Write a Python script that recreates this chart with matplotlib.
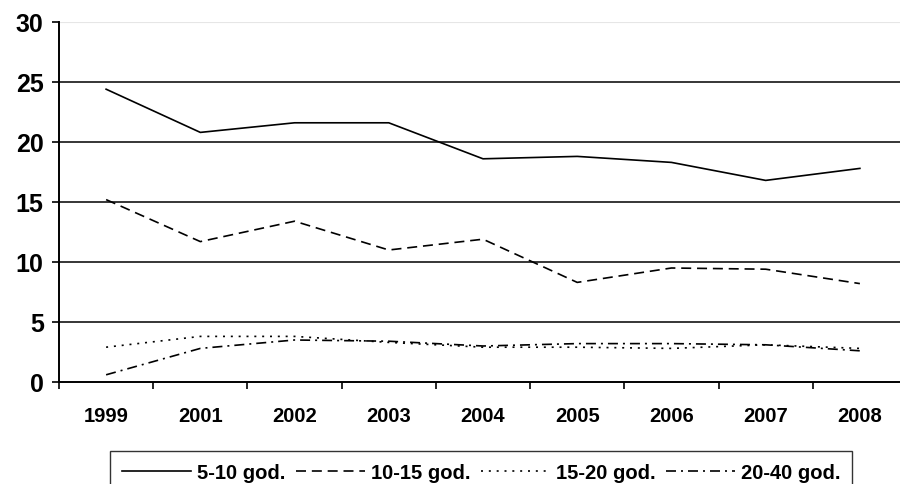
import matplotlib
matplotlib.use("Agg")
import matplotlib.pyplot as plt
from matplotlib.lines import Line2D
from numpy import arange

# chart data
years = ["1999", "2001", "2002", "2003", "2004", "2005", "2006", "2007", "2008"]
g_5_10 = [24.4, 20.8, 21.6, 21.6, 18.6, 18.8, 18.3, 16.8, 17.8]
g_10_15 = [15.2, 11.7, 13.4, 11.0, 11.9, 8.3, 9.5, 9.4, 8.2]
g_15_20 = [2.9, 3.8, 3.8, 3.3, 2.9, 2.9, 2.8, 3.1, 2.8]
g_20_40 = [0.6, 2.8, 3.5, 3.4, 3.0, 3.2, 3.2, 3.1, 2.6]

legend_names = ["5-10 god.", "10-15 god.", "15-20 god.", "20-40 god."]
line_styles = ["-", (0, (6, 3.5)), (0, (1.2, 3.5)), (0, (6, 3, 1.2, 3))]


def main() -> None:
    plt.rcParams['font.family'] = 'Liberation Sans'
    plt.rcParams['font.weight'] = 'bold'

    fig = plt.figure(figsize=(9, 4.85), dpi=100)
    # axes runs slightly past the right edge, as in the original
    ax = fig.add_axes([59 / 900, 1 - 383 / 485, 848 / 900, 360 / 485])

    x = arange(len(years))
    series = [g_5_10, g_10_15, g_15_20, g_20_40]
    for data, ls in zip(series, line_styles):
        ax.plot(x, data, color="black", linewidth=1.2, linestyle=ls)

    ax.set_ylim(0, 30)
    ax.set_xlim(-0.5, len(years) - 0.5)
    ax.set_yticks(arange(0, 31, 5))
    ax.set_yticklabels([str(v) for v in range(0, 31, 5)], fontsize=18, fontweight='bold')

    # horizontal gridlines
    for v in range(5, 30, 5):
        ax.axhline(v, color="black", linewidth=1.1, zorder=0)
    ax.axhline(30, color="#e6e6e6", linewidth=1.5, zorder=0)

    # category boundary ticks, labels in the middle
    ax.set_xticks(arange(-0.5, len(years), 1.0))
    ax.set_xticklabels([])
    ax.set_xticks(x, minor=True)
    ax.set_xticklabels(years, minor=True, fontsize=14.5, fontweight='bold')
    ax.tick_params(axis='x', which='minor', length=0, pad=17)
    ax.tick_params(axis='x', which='major', length=5, width=1.2, direction='out')
    ax.tick_params(axis='y', length=5, width=1.2, direction='out', pad=6)

    for side in ["top", "right"]:
        ax.spines[side].set_visible(False)
    for side in ["left", "bottom"]:
        ax.spines[side].set_linewidth(1.4)

    handles = [Line2D([], [], color="black", linewidth=1.2, linestyle=ls) for ls in line_styles]
    leg = fig.legend(handles, legend_names, loc="upper left",
                     bbox_to_anchor=(110 / 900, 1 - 452 / 485), ncol=4,
                     frameon=True, fancybox=False, borderaxespad=0,
                     prop={'size': 14.5, 'weight': 'bold'}, handlelength=3.4,
                     handletextpad=0.3, columnspacing=0.55, borderpad=0.6)
    leg.get_frame().set_edgecolor("black")
    leg.get_frame().set_linewidth(1.0)

    fig.savefig("out.png", dpi=100)


if __name__ == "__main__":
    main()
